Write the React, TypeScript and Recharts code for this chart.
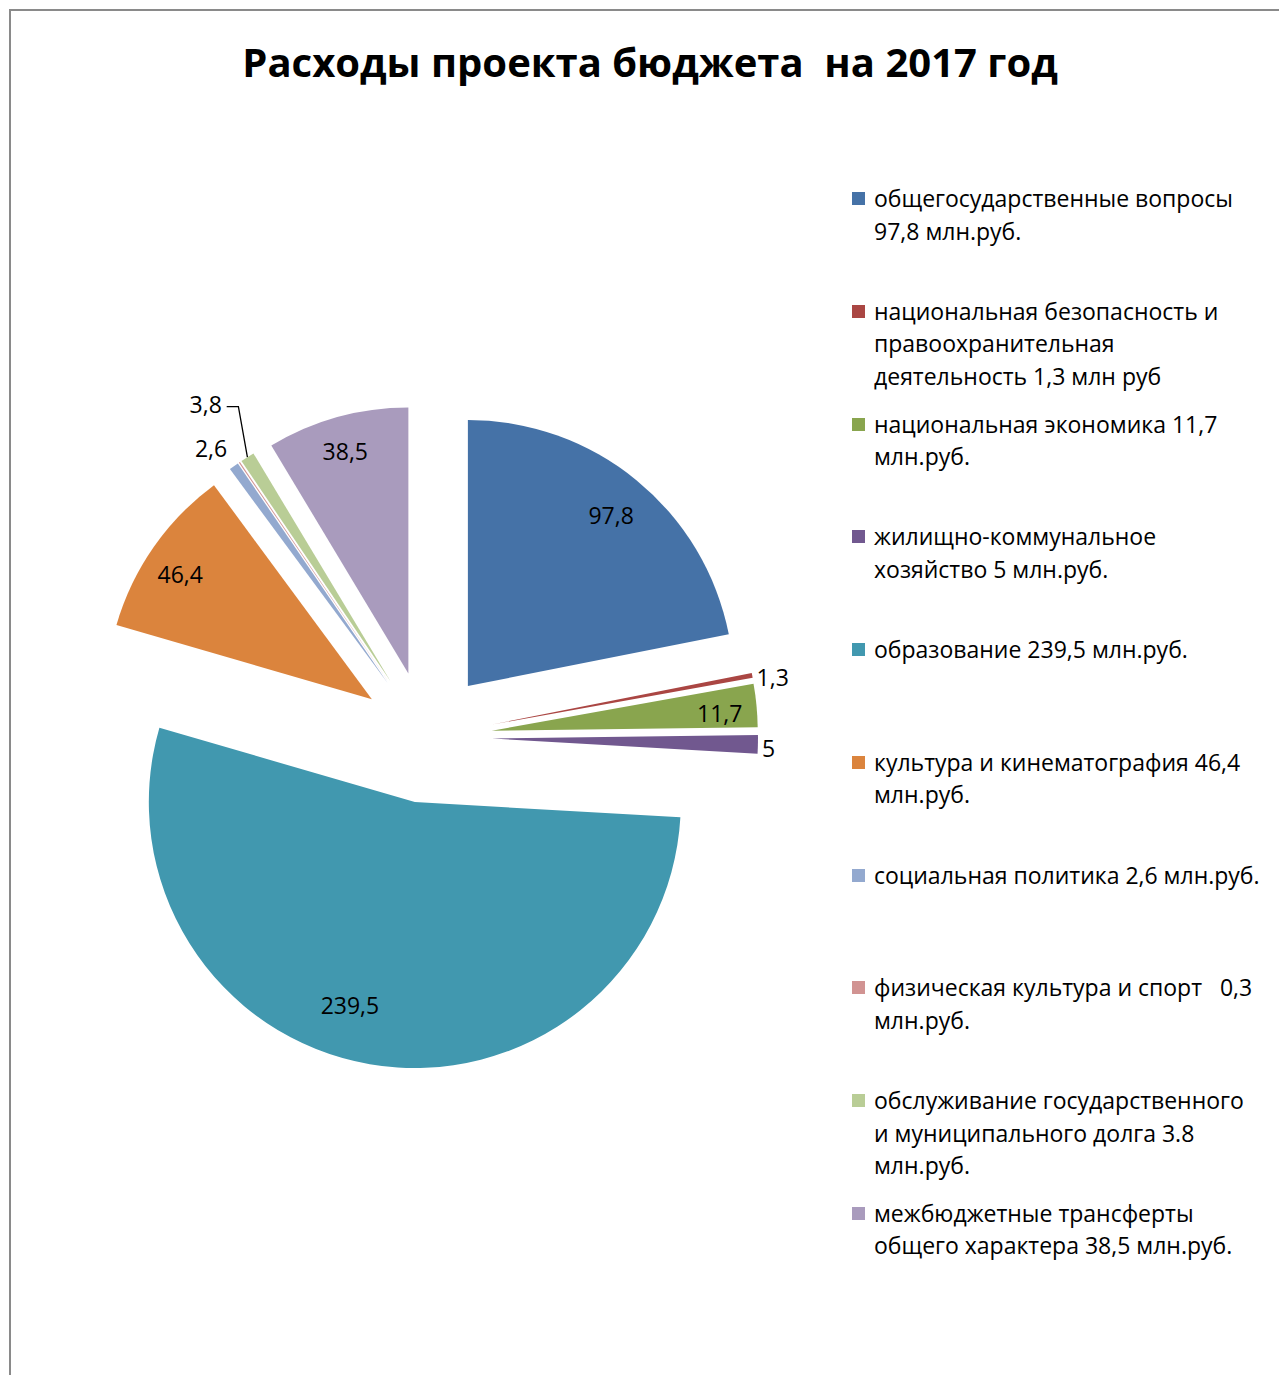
import { Legend, Pie, PieChart, Sector, Tooltip } from 'recharts';

const categories = [
  'общегосударственные вопросы\n97,8 млн.руб.',
  'национальная безопасность и\nправоохранительная\nдеятельность 1,3 млн руб',
  'национальная экономика 11,7\nмлн.руб.',
  'жилищно-коммунальное\nхозяйство 5 млн.руб.',
  'образование 239,5 млн.руб.',
  'культура и кинематография 46,4\nмлн.руб.',
  'социальная политика 2,6 млн.руб.',
  'физическая культура и спорт   0,3\nмлн.руб.',
  'обслуживание государственного\nи муниципального долга 3.8\nмлн.руб.',
  'межбюджетные трансферты\nобщего характера 38,5 млн.руб.',
];
const values = [97.8, 1.3, 11.7, 5, 239.5, 46.4, 2.6, 0.3, 3.8, 38.5];
const colors = [
  '#4572A7', '#AA4643', '#89A54E', '#71588F', '#4198AF',
  '#DB843D', '#93A9CF', '#D19392', '#B9CD96', '#A99BBD',
];

const data = categories.map((name, i) => ({ name, value: values[i], fill: colors[i] }));

// label placement: radius as share of outer radius, and a small turn (deg, clockwise)
const labelRadius = [0.84, 1.075, 0.86, 1.04, 0.8, 0.86, 1.105, 0, 1.254, 0.87];
const labelTurn = [0.5, 1, 0.9, 0.7, 8, -1.8, -1.6, 0, -1.1, -0.3];

const FONT = '"Open Sans", sans-serif';
const RAD = Math.PI / 180;
const EXPLODE = 66;

const polar = (cx: number, cy: number, r: number, angle: number) => ({
  x: cx + r * Math.cos(-angle * RAD),
  y: cy + r * Math.sin(-angle * RAD),
});

const ExplodedSector = (props: any) => {
  const c = polar(props.cx, props.cy, EXPLODE, props.midAngle);
  return (
    <Sector
      cx={c.x}
      cy={c.y}
      innerRadius={0}
      outerRadius={props.outerRadius}
      startAngle={props.startAngle}
      endAngle={props.endAngle}
      fill={props.fill}
      stroke="none"
    />
  );
};

const renderLabel = (props: any) => {
  const { cx, cy, midAngle, outerRadius, index, value } = props;
  if (!labelRadius[index]) return null;
  const s = polar(cx, cy, EXPLODE, midAngle);
  const p = polar(s.x, s.y, outerRadius * labelRadius[index], midAngle - labelTurn[index]);
  const text = String(value).replace('.', ',');
  let leader = null;
  if (index === 8) {
    const end = polar(s.x, s.y, outerRadius, midAngle);
    leader = (
      <polyline
        points={`${p.x + 21},${p.y + 3} ${end.x - 9},${p.y + 3} ${end.x},${end.y}`}
        fill="none"
        stroke="#000"
        strokeWidth={1.3}
      />
    );
  }
  return (
    <g>
      {leader}
      <text
        x={p.x}
        y={p.y}
        textAnchor="middle"
        dominantBaseline="central"
        fontFamily={FONT}
        fontSize={23}
        fill="#000"
      >
        {text}
      </text>
    </g>
  );
};

// legend keeps the order of the data (the library would sort it by name)
const renderLegend = () => (
  <div style={{ position: 'relative', width: 420, height: 1150 }}>
    {categories.map((name, i) => (
      <div
        key={name}
        style={{ position: 'absolute', top: i * 112.75, left: 0, display: 'flex', alignItems: 'flex-start' }}
      >
        <span
          style={{
            display: 'inline-block',
            width: 13,
            height: 13,
            background: colors[i],
            marginTop: 10,
            marginRight: 9,
            flexShrink: 0,
          }}
        />
        <span
          style={{
            whiteSpace: 'pre',
            lineHeight: '32.5px',
            fontSize: 23,
            fontFamily: FONT,
            color: '#000',
          }}
        >
          {name}
        </span>
      </div>
    ))}
  </div>
);

export default function App() {
  return (
    <div style={{ position: 'absolute', left: 0, top: 0, width: 1279, height: 1375, background: '#fff' }}>
      <div
        style={{
          position: 'absolute',
          left: 9,
          top: 9,
          right: 0,
          bottom: 0,
          borderLeft: '2px solid #8a8a8a',
          borderTop: '2px solid #8a8a8a',
        }}
      />
      <div
        style={{
          position: 'absolute',
          left: 0,
          width: 1300,
          top: 37,
          textAlign: 'center',
          whiteSpace: 'pre',
          fontFamily: FONT,
          fontWeight: 700,
          fontSize: 40,
          lineHeight: '50px',
          color: '#000',
        }}
      >
        Расходы проекта бюджета  на 2017 год
      </div>
      <PieChart width={1279} height={1375} margin={{ top: 0, right: 0, bottom: 0, left: 0 }}>
        <Pie
          data={data}
          dataKey="value"
          nameKey="name"
          cx={426}
          cy={737}
          outerRadius={266}
          startAngle={90}
          endAngle={-270}
          stroke="none"
          isAnimationActive={false}
          labelLine={false}
          label={renderLabel}
          shape={ExplodedSector}
          activeShape={ExplodedSector}
          inactiveShape={ExplodedSector}
        />
        <Tooltip defaultIndex={0} content={() => null} />
        <Legend
          layout="vertical"
          align="right"
          verticalAlign="top"
          content={renderLegend}
          wrapperStyle={{ position: 'absolute', left: 852, top: 182, width: 420 }}
        />
      </PieChart>
    </div>
  );
}
